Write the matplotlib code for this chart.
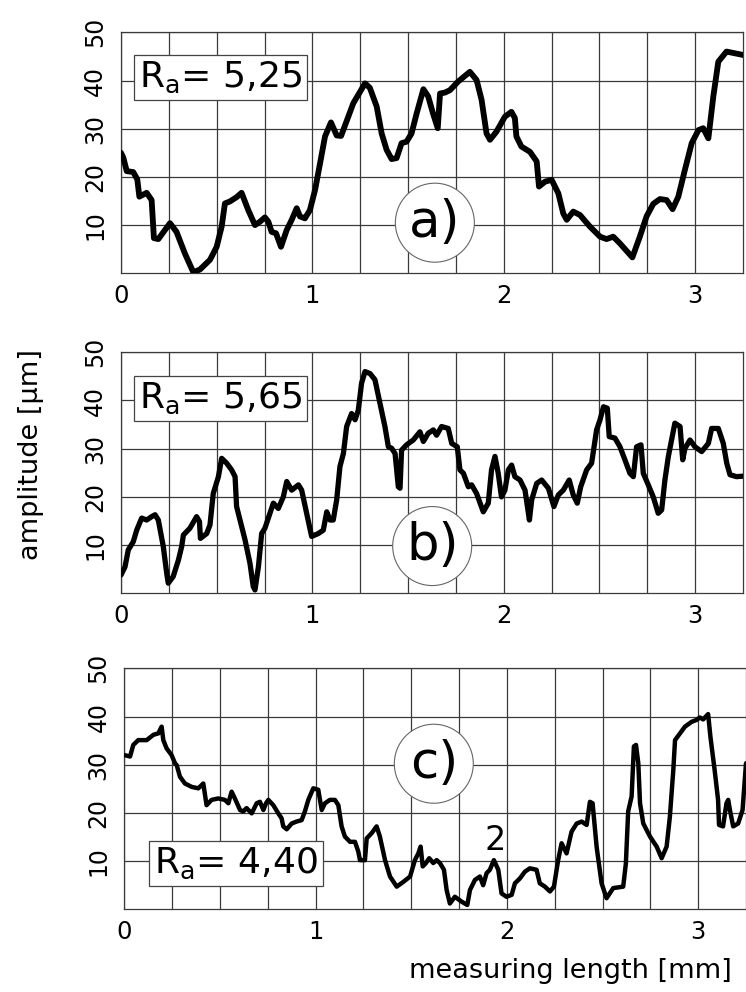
import numpy as np
import matplotlib
matplotlib.use("Agg")
import matplotlib.pyplot as plt
from matplotlib.patches import Ellipse

# profile a) =========================================
xa = [0.0, 0.012, 0.03, 0.064, 0.085, 0.096, 0.134, 0.16, 0.172, 0.195, 0.256, 0.29, 0.334, 0.378,
      0.413, 0.465, 0.50, 0.526, 0.543, 0.569, 0.604, 0.63, 0.665, 0.70, 0.726, 0.752, 0.77, 0.787,
      0.81, 0.836, 0.866, 0.892, 0.918, 0.935, 0.961, 0.987, 1.014, 1.04, 1.066, 1.097, 1.127, 1.15,
      1.214, 1.275, 1.30, 1.336, 1.362, 1.388, 1.414, 1.44, 1.466, 1.492, 1.518, 1.545, 1.58, 1.605,
      1.63, 1.655, 1.667, 1.693, 1.719, 1.762, 1.823, 1.858, 1.884, 1.91, 1.928, 1.962, 2.006, 2.04,
      2.058, 2.066, 2.092, 2.137, 2.172, 2.184, 2.215, 2.25, 2.285, 2.311, 2.329, 2.363, 2.398, 2.45,
      2.503, 2.537, 2.572, 2.607, 2.672, 2.711, 2.746, 2.781, 2.816, 2.851, 2.882, 2.912, 2.946, 2.982,
      3.017, 3.042, 3.069, 3.095, 3.121, 3.164, 3.25]
ya = [25.0, 24.0, 21.2, 21.0, 19.5, 15.9, 16.7, 15.2, 7.3, 7.1, 10.4, 8.6, 4.1, 0.2,
      0.8, 2.8, 5.5, 9.7, 14.5, 14.9, 15.8, 16.7, 13.1, 10.0, 10.7, 11.6, 10.7, 8.6,
      8.3, 5.5, 9.0, 11.1, 13.5, 11.8, 11.4, 13.1, 17.3, 22.8, 28.4, 31.3, 28.6, 28.5,
      35.3, 39.4, 38.5, 34.6, 29.0, 25.6, 23.7, 23.9, 27.0, 27.3, 29.0, 33.2, 38.2, 36.7,
      33.2, 30.1, 37.3, 37.5, 38.0, 39.8, 41.8, 40.1, 36.0, 29.0, 27.7, 29.4, 32.5, 33.5,
      32.2, 28.4, 26.3, 25.2, 23.2, 18.0, 19.0, 19.4, 16.6, 12.4, 11.1, 12.8, 12.1, 9.7,
      7.6, 7.1, 7.6, 6.2, 3.3, 7.6, 11.8, 14.4, 15.4, 15.2, 13.3, 15.9, 21.4, 27.0,
      29.7, 30.1, 28.0, 36.7, 43.9, 46.0, 45.3]

# profile b) =========================================
xb = [0.0, 0.021, 0.038, 0.064, 0.082, 0.108, 0.134, 0.16, 0.178, 0.195, 0.221, 0.239, 0.247, 0.273,
      0.30, 0.317, 0.326, 0.36, 0.395, 0.41, 0.415, 0.448, 0.465, 0.482, 0.509, 0.526, 0.552, 0.578,
      0.596, 0.604, 0.622, 0.648, 0.674, 0.691, 0.70, 0.718, 0.735, 0.752, 0.778, 0.796, 0.822, 0.848,
      0.866, 0.892, 0.927, 0.944, 0.97, 0.996, 1.031, 1.057, 1.075, 1.092, 1.109, 1.127, 1.144, 1.162,
      1.179, 1.205, 1.223, 1.24, 1.257, 1.275, 1.301, 1.327, 1.353, 1.379, 1.397, 1.414, 1.432, 1.449,
      1.458, 1.466, 1.492, 1.527, 1.562, 1.58, 1.605, 1.632, 1.649, 1.675, 1.71, 1.728, 1.757, 1.771,
      1.789, 1.815, 1.832, 1.858, 1.893, 1.919, 1.936, 1.954, 1.971, 1.988, 2.006, 2.024, 2.041, 2.058,
      2.085, 2.111, 2.134, 2.146, 2.172, 2.198, 2.233, 2.262, 2.285, 2.311, 2.342, 2.363, 2.384, 2.402,
      2.433, 2.459, 2.485, 2.503, 2.521, 2.541, 2.551, 2.581, 2.607, 2.633, 2.659, 2.677, 2.694, 2.717,
      2.729, 2.755, 2.781, 2.807, 2.825, 2.842, 2.86, 2.877, 2.894, 2.921, 2.935, 2.947, 2.973, 2.999,
      3.034, 3.069, 3.086, 3.121, 3.147, 3.165, 3.182, 3.216, 3.25]
yb = [3.8, 5.5, 9.0, 10.7, 13.1, 15.6, 15.2, 15.9, 16.3, 15.2, 9.7, 4.1, 2.1, 3.5,
      6.9, 9.7, 12.1, 13.5, 15.9, 14.9, 11.4, 12.4, 14.2, 20.7, 24.2, 28.0, 27.0, 25.6,
      24.2, 18.0, 15.2, 11.1, 6.2, 1.4, 0.7, 5.5, 12.4, 13.5, 16.6, 18.7, 17.6, 20.0,
      23.2, 21.4, 22.5, 21.4, 16.6, 11.8, 12.4, 13.1, 16.9, 15.2, 15.2, 19.4, 26.3, 29.0,
      34.6, 37.3, 36.0, 38.0, 43.6, 46.0, 45.6, 44.3, 39.4, 34.6, 30.4, 30.1, 29.0, 22.1,
      21.8, 29.7, 30.8, 31.8, 33.5, 31.5, 33.2, 33.9, 32.8, 34.6, 34.2, 31.1, 30.4, 25.6,
      24.9, 22.1, 22.5, 20.7, 16.9, 18.7, 25.6, 28.4, 24.9, 20.0, 21.4, 25.6, 26.6, 24.2,
      23.5, 21.4, 15.2, 19.4, 22.8, 23.5, 21.8, 18.0, 20.4, 21.4, 23.5, 20.4, 18.7, 22.1,
      25.6, 27.0, 33.9, 36.0, 38.7, 38.4, 32.5, 32.2, 30.4, 27.7, 24.9, 24.2, 30.4, 30.8,
      24.9, 22.5, 20.0, 16.6, 17.3, 23.5, 28.4, 31.8, 35.3, 34.6, 27.7, 30.1, 31.8, 30.4,
      29.4, 31.1, 34.2, 34.2, 31.1, 27.0, 24.6, 24.2, 24.3]

# profile c) =========================================
xc = [0.0, 0.03, 0.047, 0.073, 0.117, 0.152, 0.178, 0.195, 0.204, 0.221, 0.247, 0.265, 0.274, 0.291,
      0.317, 0.352, 0.387, 0.413, 0.43, 0.456, 0.491, 0.526, 0.544, 0.561, 0.578, 0.605, 0.622, 0.639,
      0.666, 0.692, 0.709, 0.727, 0.741, 0.753, 0.779, 0.805, 0.822, 0.831, 0.849, 0.875, 0.90, 0.927,
      0.944, 0.962, 0.988, 1.014, 1.032, 1.049, 1.075, 1.101, 1.119, 1.136, 1.153, 1.18, 1.206, 1.223,
      1.232, 1.258, 1.267, 1.293, 1.319, 1.336, 1.363, 1.389, 1.424, 1.459, 1.494, 1.519, 1.537, 1.549,
      1.56, 1.577, 1.594, 1.615, 1.633, 1.65, 1.671, 1.685, 1.702, 1.728, 1.763, 1.793, 1.807, 1.833,
      1.859, 1.876, 1.894, 1.911, 1.932, 1.955, 1.972, 1.998, 2.025, 2.042, 2.068, 2.094, 2.12, 2.155,
      2.172, 2.199, 2.225, 2.246, 2.268, 2.286, 2.312, 2.338, 2.365, 2.391, 2.417, 2.434, 2.448, 2.469,
      2.495, 2.521, 2.556, 2.608, 2.622, 2.634, 2.652, 2.664, 2.675, 2.687, 2.696, 2.713, 2.748, 2.783,
      2.809, 2.835, 2.852, 2.87, 2.879, 2.905, 2.931, 2.966, 2.992, 3.009, 3.026, 3.052, 3.064, 3.086,
      3.104, 3.109, 3.13, 3.148, 3.157, 3.166, 3.183, 3.209, 3.232, 3.25]
yc = [32.0, 31.7, 34.1, 35.1, 35.1, 36.2, 36.5, 37.9, 35.1, 33.4, 32.0, 30.3, 29.9, 27.5,
      26.1, 25.4, 25.1, 26.1, 21.6, 22.7, 23.0, 22.7, 22.0, 24.4, 23.0, 20.6, 20.3, 21.0,
      19.9, 22.0, 22.3, 20.6, 22.0, 22.7, 21.6, 19.9, 18.9, 17.2, 16.6, 17.8, 18.2, 18.5,
      20.3, 22.7, 25.1, 24.8, 20.6, 22.0, 22.7, 22.7, 21.6, 17.2, 15.1, 14.0, 14.0, 12.0,
      10.2, 10.2, 14.7, 15.8, 17.2, 15.1, 10.2, 6.8, 4.7, 5.7, 6.8, 10.2, 11.6, 13.0,
      8.9, 9.6, 10.6, 9.6, 10.2, 9.6, 8.2, 4.0, 1.2, 2.6, 1.6, 0.9, 4.0, 6.1,
      6.8, 5.0, 7.5, 8.2, 10.2, 8.2, 3.3, 2.6, 3.0, 5.4, 6.4, 7.8, 8.5, 8.2,
      5.4, 4.7, 3.7, 4.7, 10.2, 13.7, 11.6, 16.1, 17.8, 18.2, 17.5, 22.3, 22.0, 13.0,
      5.4, 2.3, 4.4, 4.7, 9.5, 20.3, 23.4, 33.8, 34.1, 30.3, 22.0, 17.8, 15.1, 13.0,
      10.6, 13.0, 19.2, 28.9, 35.1, 36.5, 37.9, 38.9, 39.3, 39.8, 39.4, 40.5, 35.8, 28.9,
      22.7, 17.5, 17.2, 22.0, 22.7, 20.6, 17.2, 17.8, 20.6, 30.3]

ra_labels = ['5,25', '5,65', '4,40']
panel_labels = ['a)', 'b)', 'c)']

# layout (figure fractions / data coords) =============
W, H = 746, 992
fig = plt.figure(figsize=(W / 100, H / 100), dpi=100)
rects = [(121 / W, 1 - 273.3 / H, 622 / W, 241 / H),
         (121 / W, 1 - 593.3 / H, 622 / W, 241 / H),
         (124.3 / W, 1 - 909.3 / H, 621.7 / W, 241 / H)]
ra_pos = [(0.52, 40.6), (0.52, 40.4), (0.585, 9.5)]
circ_pos = [(1.64, 10.5), (1.626, 9.8), (1.618, 30.2)]
lws = [4.2, 3.8, 3.2]
series = [(xa, ya), (xb, yb), (xc, yc)]

grid_col = '#3a3a3a'
for i, rect in enumerate(rects):
    ax = fig.add_axes(rect)
    x, y = series[i]
    ax.plot(x, y, color='black', lw=lws[i], solid_joinstyle='round', solid_capstyle='round', zorder=3)
    ax.set_xlim(0, 3.25)
    ax.set_ylim(0, 50)
    ax.set_xticks([0, 1, 2, 3])
    ax.set_xticks(np.arange(0, 3.01, 0.25), minor=True)
    ax.set_yticks([10, 20, 30, 40, 50])
    ax.grid(True, which='both', axis='x', color=grid_col, lw=0.9)
    ax.grid(True, which='major', axis='y', color=grid_col, lw=0.9)
    ax.set_axisbelow(True)
    ax.tick_params(which='both', length=0)
    ax.tick_params(axis='x', labelsize=17.5, pad=8)
    ax.tick_params(axis='y', labelsize=17, pad=10)
    plt.setp(ax.get_yticklabels(), rotation=90, va='center')
    for s in ax.spines.values():
        s.set_color(grid_col)
        s.set_linewidth(0.9)

    ax.text(ra_pos[i][0], ra_pos[i][1], r'R$_\mathregular{a}$= ' + ra_labels[i],
            fontsize=26, ha='center', va='center', zorder=4,
            bbox=dict(boxstyle='square,pad=0.14', fc='white', ec='#444444', lw=0.9))
    cx, cy = circ_pos[i]
    ax.add_patch(Ellipse((cx, cy), 79 / 191.4, 79 / 4.82, fc='white', ec='#666666', lw=0.8, zorder=4))
    ax.text(cx, cy, panel_labels[i], fontsize=37, ha='center', va='center', zorder=5)

    if i == 2:
        ax.text(1.938, 14.2, '2', fontsize=24, ha='center', va='center', zorder=4)

fig.text(31 / W, 1 - 454 / H, 'amplitude [\u00b5m]', rotation=90, fontsize=19.5, ha='center', va='center')
fig.text(732 / W, 1 - 970.7 / H, 'measuring length [mm]', fontsize=19.5, ha='right', va='center')

fig.savefig('out.png', dpi=100)
